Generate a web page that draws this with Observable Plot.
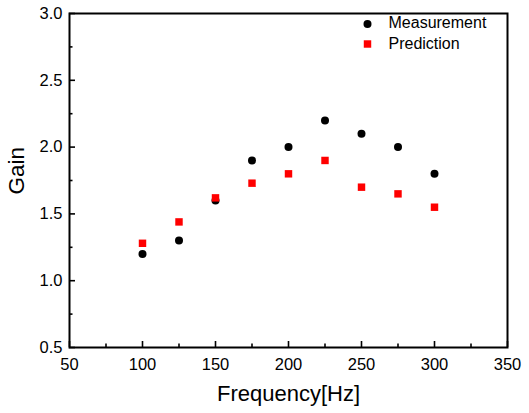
<!DOCTYPE html>
<html>
<head>
<meta charset="utf-8">
<script src="https://cdn.jsdelivr.net/npm/d3@7"></script>
<script src="https://cdn.jsdelivr.net/npm/@observablehq/plot@0.6"></script>
<style>
  html, body { margin: 0; padding: 0; background: #fff; }
  svg { font-family: "Liberation Sans", Arial, sans-serif; }
</style>
</head>
<body>
<div id="chart"></div>
<script>
const frequency = [100, 125, 150, 175, 200, 225, 250, 275, 300];
const measurement = [1.20, 1.30, 1.60, 1.90, 2.00, 2.20, 2.10, 2.00, 1.80];
const prediction = [1.28, 1.44, 1.62, 1.73, 1.80, 1.90, 1.70, 1.65, 1.55];
const xMajor = [50, 100, 150, 200, 250, 300, 350];
const xMinor = [75, 125, 175, 225, 275, 325];
const yMajor = [0.5, 1.0, 1.5, 2.0, 2.5, 3.0];
const yMinor = [0.75, 1.25, 1.75, 2.25, 2.75];

const W = 529, H = 413;
const mL = 69, mT = 13, mR = 22, mB = 66;
const pw = W - mL - mR, ph = H - mT - mB;

const mData = frequency.map((f, i) => ({f, g: measurement[i]}));
const pData = frequency.map((f, i) => ({f, g: prediction[i]}));

const chart = Plot.plot({
  width: W, height: H,
  marginLeft: mL, marginTop: mT, marginRight: mR, marginBottom: mB,
  style: {fontFamily: "Liberation Sans, Arial, sans-serif", background: "#fff"},
  x: {domain: [50, 350]},
  y: {domain: [0.5, 3.0]},
  marks: [
    Plot.axisX({ticks: xMajor, tickSize: 0, tickPadding: 11, fontSize: 16.5, fill: "#000", label: null, tickFormat: d => String(d)}),
    Plot.axisY({ticks: yMajor, tickSize: 0, tickPadding: 7, fontSize: 16.5, fill: "#000", label: null, tickFormat: d => d.toFixed(1)}),
    Plot.ruleX(xMajor, {x: d => d, insetTop: ph - 6, stroke: "#000", strokeWidth: 1.6}),
    Plot.ruleX(xMinor, {x: d => d, insetTop: ph - 3.5, stroke: "#000", strokeWidth: 1.6}),
    Plot.ruleY(yMajor, {y: d => d, insetRight: pw - 6, stroke: "#000", strokeWidth: 1.6}),
    Plot.ruleY(yMinor, {y: d => d, insetRight: pw - 3.5, stroke: "#000", strokeWidth: 1.6}),
    Plot.frame({stroke: "#000", strokeWidth: 2}),
    Plot.dot(mData, {x: "f", y: "g", r: 4, fill: "#000", stroke: "none"}),
    Plot.dot(pData, {x: "f", y: "g", r: 4.2, symbol: "square", fill: "#ff0000", stroke: "none"}),
    // legend
    Plot.dot([0], {frameAnchor: "top-right", dx: -140, dy: 10.5, r: 4, fill: "#000", stroke: "none"}),
    Plot.dot([0], {frameAnchor: "top-right", dx: -140, dy: 30.5, r: 4.2, symbol: "square", fill: "#ff0000", stroke: "none"}),
    Plot.text(["Measurement"], {frameAnchor: "top-right", dx: -119, dy: 9.5, textAnchor: "start", lineAnchor: "middle", fontSize: 16, fill: "#000"}),
    Plot.text(["Prediction"], {frameAnchor: "top-right", dx: -119, dy: 30, textAnchor: "start", lineAnchor: "middle", fontSize: 16, fill: "#000"}),
    // axis titles
    Plot.text(["Frequency[Hz]"], {frameAnchor: "bottom", dy: 46, lineAnchor: "middle", fontSize: 22, fill: "#000"}),
    Plot.text(["Gain"], {frameAnchor: "left", dx: -53, dy: 14, rotate: -90, lineAnchor: "middle", fontSize: 22.5, fill: "#000"})
  ]
});
document.getElementById("chart").appendChild(chart);
</script>
</body>
</html>
